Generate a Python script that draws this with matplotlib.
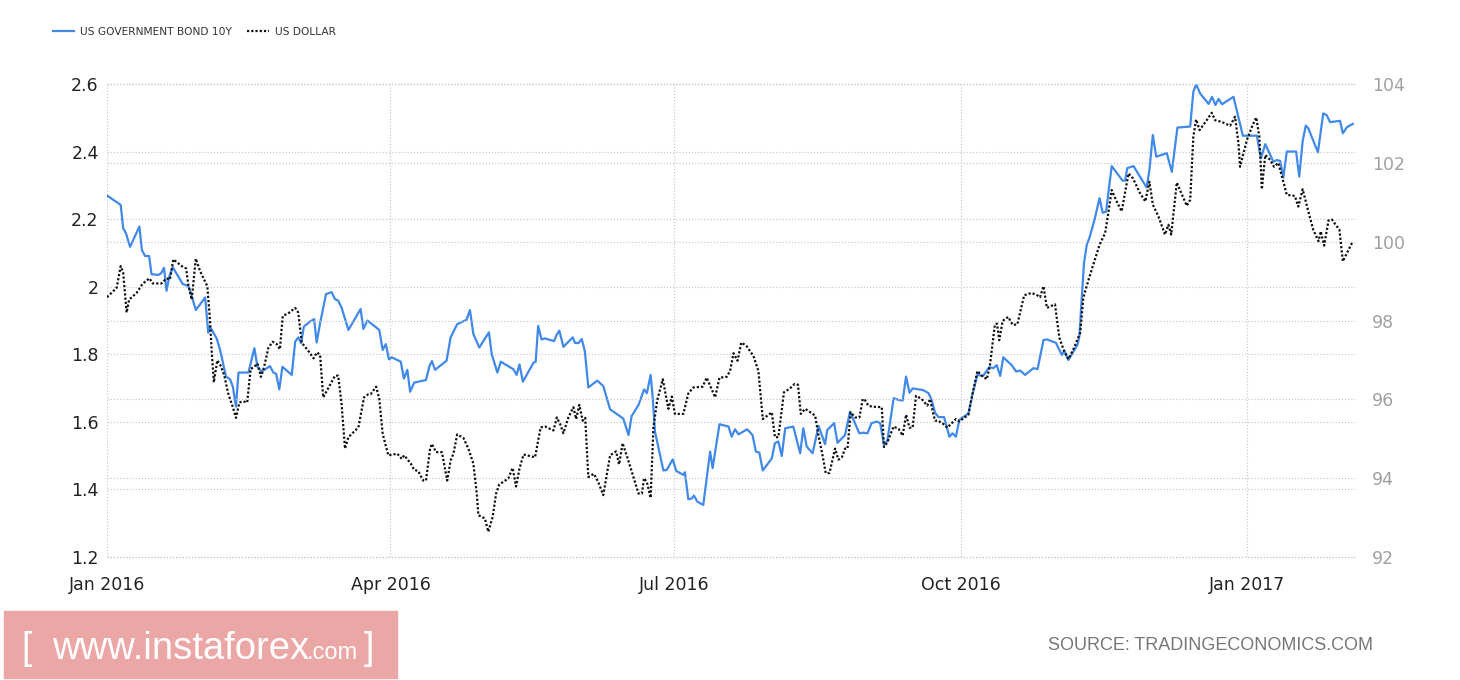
""" US 10Y bond yield vs US dollar index """

import matplotlib
matplotlib.use("Agg")
import matplotlib.pyplot as plt
import matplotlib.dates as mdates
from matplotlib.patches import Rectangle
import pandas as pd

start = pd.Timestamp("2016-01-01")

# US government bond 10y (days after 2016-01-01, yield %)
bond_days = [0, 3.6, 4.4, 5.2, 6.1, 7.4, 10.4, 11.2, 12.2, 13.5, 14.3, 16.5, 17.4, 18.3, 19.1, 20, 21.1, 24.3,
             26.1, 27.4, 28.5, 31.5, 32.5, 33, 35.2, 36.3, 38.2, 39.5, 40.4, 41.4, 42.2, 45.4, 47.3, 48.3, 49.7,
             52.3, 53.4, 54.3, 55.3, 56.3, 59.3, 60.4, 61.4, 62.3, 63.2, 65.2, 66.5, 67.3, 68.4, 70.3, 72.1, 73.2,
             74.2, 75.3, 77.5, 81.4, 82.3, 83.6, 87.4, 88.5, 89.5, 90.5, 91.4, 94.3, 95.3, 96.4, 97.3, 98.6,
             102.4, 103.5, 104.3, 105.3, 109, 110.3, 112.4, 115.4, 116.5, 117.6, 119.5, 122.6, 123.5, 125.3,
             126.4, 130.4, 131.5, 132.4, 133.5, 136.9, 137.6, 138.4, 139.5, 140.5, 143.5, 144.3, 145.2, 146.5,
             149.5, 150.2, 151.3, 152.4, 153.4, 154.5, 157.4, 159.3, 161.5, 165.7, 167.4, 168.4, 170.6, 172.4,
             173.3, 174.5, 175.1, 175.9, 178.6, 179.7, 181.6, 182.7, 185, 185.5, 186.6, 187.7, 188.4, 189.5,
             191.4, 193.6, 194.4, 196.6, 199.5, 200.5, 201.6, 202.7, 205.5, 207.2, 208.3, 209.4, 210.5, 213.4,
             214.4, 215.5, 216.6, 217.7, 220.3, 222.5, 223.5, 224.6, 226.5, 228.4, 230.5, 231.2, 233.4, 234.5,
             236.9, 238.5, 241.5, 242.8, 244.1, 245.4, 247.1, 248.2, 249.4, 250.5, 252.5, 254.1, 255.4, 256.5,
             257.6, 258.6, 262, 263.7, 264.7, 265.8, 266.9, 268.7, 270.4, 271.4, 272.5, 273.6, 276.5, 277.9,
             279.4, 281.2, 283.2, 284.5, 285.6, 286.7, 287.7, 290.4, 291.8, 293.1, 294.7, 297.4, 298.7, 300.6,
             301.7, 304.6, 306.5, 307.3, 308.6, 311.5, 312.1, 313.6, 314.5, 315.4, 316.9, 318.6, 319.6, 320.7,
             322.5, 326, 326.8, 327.5, 329.5, 333.7, 334.6, 335.7, 336.8, 340.2, 341.8, 343.6, 347.7, 348.7,
             349.6, 350.9, 353.6, 354.7, 355.8, 356.8, 357.9, 361.6, 364.6, 369.1, 370.4, 371.8, 374.4, 375.5,
             376.6, 377.6, 378.7, 381.7, 382.7, 383.8, 384.8, 385.6, 388.7, 390.4, 391.5, 392.6, 395.8, 396.7,
             398.0, 399.9]
bond_yield = [2.27, 2.247, 2.242, 2.173, 2.158, 2.118, 2.178, 2.109, 2.091, 2.091, 2.037, 2.035, 2.04, 2.056,
              1.988, 2.03, 2.058, 2.008, 2.002, 1.966, 1.931, 1.968, 1.864, 1.882, 1.847, 1.813, 1.734, 1.726,
              1.704, 1.645, 1.746, 1.746, 1.818, 1.763, 1.749, 1.765, 1.746, 1.742, 1.696, 1.763, 1.739, 1.837,
              1.85, 1.833, 1.882, 1.897, 1.904, 1.835, 1.892, 1.978, 1.984, 1.963, 1.959, 1.938, 1.872, 1.934,
              1.875, 1.9, 1.872, 1.813, 1.83, 1.785, 1.791, 1.778, 1.728, 1.754, 1.689, 1.716, 1.724, 1.765,
              1.78, 1.754, 1.781, 1.85, 1.889, 1.902, 1.931, 1.86, 1.82, 1.865, 1.8, 1.746, 1.778, 1.756, 1.739,
              1.77, 1.719, 1.775, 1.778, 1.884, 1.844, 1.847, 1.839, 1.857, 1.87, 1.822, 1.85, 1.834, 1.833,
              1.845, 1.808, 1.702, 1.722, 1.706, 1.637, 1.61, 1.561, 1.617, 1.65, 1.696, 1.685, 1.739, 1.68,
              1.571, 1.456, 1.458, 1.489, 1.455, 1.443, 1.451, 1.371, 1.373, 1.382, 1.364, 1.354, 1.512, 1.463,
              1.593, 1.586, 1.556, 1.578, 1.563, 1.578, 1.561, 1.512, 1.509, 1.456, 1.492, 1.537, 1.542, 1.499,
              1.581, 1.586, 1.507, 1.581, 1.527, 1.507, 1.588, 1.534, 1.576, 1.596, 1.538, 1.561, 1.63, 1.566,
              1.568, 1.566, 1.596, 1.601, 1.596, 1.532, 1.544, 1.67, 1.665, 1.663, 1.734, 1.686, 1.699, 1.694,
              1.685, 1.665, 1.627, 1.614, 1.614, 1.556, 1.566, 1.556, 1.606, 1.625, 1.685, 1.739, 1.736, 1.762,
              1.759, 1.768, 1.736, 1.791, 1.768, 1.749, 1.752, 1.739, 1.759, 1.756, 1.842, 1.844, 1.834, 1.798,
              1.81, 1.783, 1.828, 1.852, 2.069, 2.124, 2.146, 2.195, 2.262, 2.219, 2.222, 2.357, 2.314, 2.314,
              2.351, 2.357, 2.294, 2.345, 2.449, 2.385, 2.395, 2.34, 2.471, 2.474, 2.577, 2.599, 2.572, 2.541,
              2.562, 2.538, 2.556, 2.54, 2.562, 2.447, 2.447, 2.38, 2.422, 2.37, 2.375, 2.372, 2.323, 2.4, 2.4,
              2.326, 2.431, 2.477, 2.469, 2.398, 2.513, 2.508, 2.487, 2.491, 2.454, 2.472, 2.482]

# US dollar index (days after 2016-01-01, index level)
usd_days = [0, 3.1, 4.4, 5.2, 6.3, 7.1, 9.5, 11.4, 13.6, 14.7, 17.5, 19.1, 20.2, 21.3, 24, 25.4, 26.1, 27.2,
            28.5, 29.9, 32.2, 33, 33.6, 34.3, 35.4, 36.5, 37.6, 38.9, 40.4, 41.4, 42.5, 43.6, 45, 46.1, 47.2,
            48.3, 49.4, 50.4, 51.8, 53.2, 54.5, 55.5, 56.4, 58.5, 60.4, 61.4, 62.5, 65, 66.3, 67.4, 68.4, 69.4,
            73.2, 74.2, 75.3, 76.4, 77.5, 80.7, 82.5, 83.9, 84.6, 86.4, 87.4, 88.5, 90.3, 93.2, 94.6, 95.4, 97.5,
            98.6, 99.9, 101.5, 102.4, 103.7, 104.3, 105.6, 107.5, 109.2, 110.3, 111.2, 112.4, 114.4, 116, 117.6,
            118.7, 119.2, 121.3, 122.4, 123.8, 124.9, 125.9, 128.8, 130.2, 131.3, 132.4, 133.7, 137.4, 139.2,
            140.6, 143.3, 144.4, 145.5, 146.5, 148.1, 149.7, 150.6, 151.6, 152.7, 153.5, 154.5, 156.3, 157.7,
            159.3, 161.5, 163.4, 164.4, 165.5, 167, 168.4, 170.6, 171.7, 172.4, 173.3, 174.5, 175.4, 176.6,
            178.4, 180.2, 181.3, 182.3, 185, 186.6, 188.2, 191.2, 192.5, 195.2, 196.6, 198.9, 200, 201.1, 202.4,
            203.6, 205.2, 207.5, 209.1, 210.5, 213.4, 214.4, 215.5, 217.3, 219, 220.7, 221.8, 222.7, 224.1,
            227.3, 228.4, 229.8, 230.7, 231.9, 233.7, 234.8, 235.9, 236.9, 237.7, 238.7, 240.2, 241.5, 242.6,
            243.3, 244.4, 245.8, 247.1, 248.7, 249.4, 250.5, 252.5, 254.1, 255.4, 256.5, 257.6, 258.6, 259.7,
            261.5, 263.3, 264.2, 265.3, 265.8, 266.9, 267.9, 268.4, 269.7, 271.1, 272.5, 273.6, 276.5, 277.6,
            279.4, 280.8, 282.4, 283.4, 285, 285.7, 286.4, 287.5, 289.3, 290.7, 292.2, 294.4, 296.8, 298.6,
            299.5, 300.6, 301.7, 304.3, 305.7, 307.2, 308.6, 310.2, 312.4, 313.4, 315.4, 318.6, 320.4, 321.5,
            322.5, 324.1, 325.7, 327.9, 329.3, 331.6, 333.3, 334.6, 335.7, 337.5, 339.6, 340.7, 341.6, 343.4,
            346.6, 347.7, 348.7, 349.6, 350.7, 353, 354.6, 355.7, 357.8, 360.5, 362.1, 363.2, 363.7, 365.9,
            367.5, 368.9, 369.9, 370.7, 371.8, 373.4, 374.6, 376, 377.4, 378.7, 381.3, 382.4, 383.8, 385.6,
            387.2, 388.9, 389.6, 390.7, 392.1, 393.2, 395.6, 396.7, 398, 399.9]
usd_index = [98.59, 98.83, 99.38, 99.21, 98.2, 98.53, 98.7, 98.93, 99.07, 98.94, 98.94, 99.07, 99.04, 99.55,
             99.38, 99.32, 98.91, 98.53, 99.57, 99.25, 98.87, 98.07, 97.23, 96.43, 96.99, 96.85, 96.62, 96.15,
             95.8, 95.53, 95.92, 95.95, 95.92, 96.77, 96.82, 96.91, 96.57, 96.81, 97.31, 97.46, 97.4, 97.27,
             98.11, 98.2, 98.32, 98.2, 97.44, 97.19, 97.04, 97.19, 97.13, 96.05, 96.6, 96.6, 95.88, 94.75, 95.04,
             95.29, 96.05, 96.13, 96.13, 96.32, 96.01, 95.12, 94.58, 94.62, 94.49, 94.58, 94.37, 94.21, 94.18,
             93.94, 93.94, 94.75, 94.87, 94.66, 94.66, 93.94, 94.45, 94.62, 95.11, 95.02, 94.75, 94.37, 93.61,
             93.06, 92.98, 92.64, 93.02, 93.61, 93.84, 93.99, 94.26, 93.79, 94.24, 94.6, 94.53, 95.29, 95.31,
             95.21, 95.54, 95.36, 95.14, 95.54, 95.8, 95.5, 95.86, 95.46, 95.53, 94.03, 94.11, 93.9, 93.57,
             94.58, 94.68, 94.35, 94.89, 94.53, 94.18, 93.61, 93.61, 94.0, 93.9, 93.5, 95.29, 95.97, 96.51,
             95.76, 96.07, 95.63, 95.63, 96.15, 96.3, 96.32, 96.55, 96.05, 96.55, 96.57, 96.72, 97.17, 96.98,
             97.44, 97.36, 97.1, 96.72, 95.5, 95.67, 95.04, 95.04, 96.18, 96.26, 96.39, 96.37, 95.63, 95.76,
             95.59, 95.08, 94.53, 94.13, 94.13, 94.75, 94.47, 94.53, 94.75, 94.75, 95.67, 95.54, 95.54, 96.01,
             95.98, 95.84, 95.81, 95.81, 95.8, 94.79, 94.91, 95.31, 95.25, 95.08, 95.61, 95.28, 95.28, 96.09,
             96.01, 95.84, 96.01, 95.61, 95.46, 95.46, 95.39, 95.38, 95.28, 95.39, 95.5, 95.44, 95.61, 96.05,
             96.72, 96.6, 96.51, 96.85, 97.9, 97.92, 97.5, 97.99, 98.09, 97.89, 97.9, 98.64, 98.7, 98.64, 98.59,
             98.87, 98.32, 98.41, 97.56, 97.23, 97.02, 97.27, 97.69, 98.58, 99.12, 99.92, 100.22, 100.77, 101.31,
             101.02, 100.77, 101.73, 101.61, 101.23, 101.02, 101.52, 100.94, 100.64, 100.18, 100.43, 100.18,
             101.5, 100.91, 101.06, 102.66, 103.1, 102.83, 103.08, 103.27, 103.08, 103.04, 102.94, 103.17,
             102.49, 101.9, 102.58, 102.91, 103.15, 102.66, 101.33, 102.2, 102.07, 101.9, 102.0, 101.58, 101.19,
             101.16, 100.89, 101.33, 100.77, 100.3, 100.01, 100.26, 99.9, 100.54, 100.56, 100.3, 99.5, 99.71,
             100.01]

tick_dates = ["2016-01-01", "2016-04-01", "2016-07-01", "2016-10-01", "2017-01-01"]
left_ticks = [1.2, 1.4, 1.6, 1.8, 2.0, 2.2, 2.4, 2.6]
left_labels = ["1.2", "1.4", "1.6", "1.8", "2", "2.2", "2.4", "2.6"]
right_ticks = [92, 94, 96, 98, 100, 102, 104]

bond_dates = start + pd.to_timedelta(bond_days, unit="D")
usd_dates = start + pd.to_timedelta(usd_days, unit="D")

fig = plt.figure(figsize=(14.6, 6.8), dpi=100)
ax = fig.add_axes([107 / 1460, 1 - 557 / 680, (1355 - 107) / 1460, (557 - 84) / 680])
ax2 = ax.twinx()

grid_kw = dict(color="#cccccc", linestyle=(0, (1, 1.5)), linewidth=0.9)

l1, = ax.plot(bond_dates, bond_yield, color="#4189e8", linewidth=1.6, label="US GOVERNMENT BOND 10Y")
l2, = ax2.plot(usd_dates, usd_index, color="#111111", linewidth=1.6, linestyle=(0, (1, 0.9)),
               label="US DOLLAR")

ax.set_xlim(start, start + pd.Timedelta(days=400.6))
ax.set_ylim(1.2, 2.6)
ax2.set_ylim(92, 103.95)

ax.set_xticks(pd.to_datetime(tick_dates))
ax.xaxis.set_major_formatter(mdates.DateFormatter("%b %Y"))
ax.set_yticks(left_ticks)
ax.set_yticklabels(left_labels)
ax2.set_yticks(right_ticks)

ax.grid(True, **grid_kw)
ax2.grid(True, axis="y", **grid_kw)
ax.set_axisbelow(True)
for g in ax.get_ygridlines() + ax2.get_ygridlines():
    g.set_clip_on(False)

for a in (ax, ax2):
    for s in a.spines.values():
        s.set_visible(False)

ax.tick_params(axis="x", length=0, pad=14, labelsize=12.5, labelcolor="#222222")
ax.tick_params(axis="y", length=0, pad=6, labelsize=12.5, labelcolor="#222222")
ax2.tick_params(axis="y", length=0, pad=12, labelsize=12.5, labelcolor="#a0a0a0")

fig.legend(handles=[l1, l2], loc="upper left", bbox_to_anchor=(53 / 1460, 1 - 27 / 680), ncol=2,
           frameon=False, fontsize=7.7, labelcolor="#333333", handlelength=2.0, handletextpad=0.55,
           columnspacing=1.4, borderpad=0, borderaxespad=0)

# watermark box
fig.patches.append(Rectangle((4 / 1460, 1 - 678 / 680), 393 / 1460, 67 / 680,
                             transform=fig.transFigure, color="#eba6a6", zorder=0))
base = 1 - 659 / 680
fig.text(21 / 1460, base, "[", fontsize=27, color="white", family="Liberation Sans", va="baseline")
fig.text(52 / 1460, base, "www.instaforex", fontsize=27.5, color="white", family="Liberation Sans",
         va="baseline")
fig.text(307 / 1460, base, ".com", fontsize=17, color="white", family="Liberation Sans", va="baseline")
fig.text(364 / 1460, base, "]", fontsize=27, color="white", family="Liberation Sans", va="baseline")

fig.text(1373 / 1460, 1 - 645 / 680, "SOURCE: TRADINGECONOMICS.COM", fontsize=13, color="#777777",
         family="Liberation Sans", ha="right", va="center")

fig.savefig("out.png", dpi=100)
